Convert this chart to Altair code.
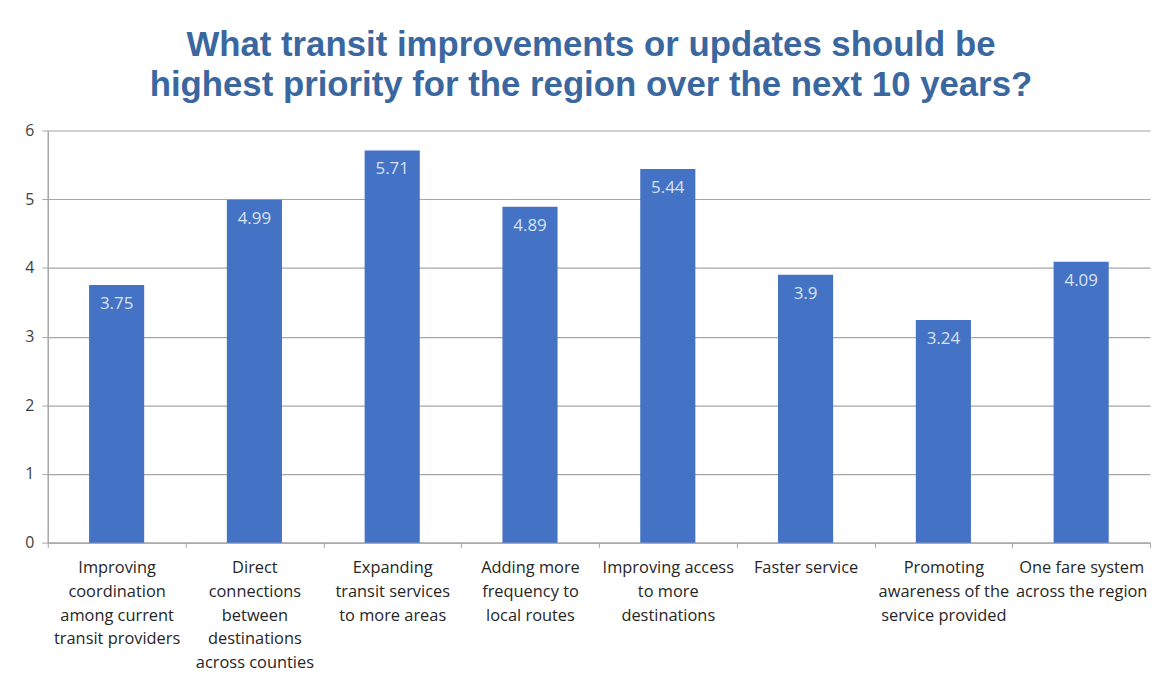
import altair as alt
import pandas as pd

categories = [
    "Improving\ncoordination\namong current\ntransit providers",
    "Direct\nconnections\nbetween\ndestinations\nacross counties",
    "Expanding\ntransit services\nto more areas",
    "Adding more\nfrequency to\nlocal routes",
    "Improving access\nto more\ndestinations",
    "Faster service",
    "Promoting\nawareness of the\nservice provided",
    "One fare system\nacross the region",
]
values = [3.75, 4.99, 5.71, 4.89, 5.44, 3.90, 3.24, 4.09]
value_labels = ["3.75", "4.99", "5.71", "4.89", "5.44", "3.9", "3.24", "4.09"]

df = pd.DataFrame({"cat": categories, "val": values, "lab": value_labels})

x = alt.X(
    "cat:N",
    sort=categories,
    title=None,
    scale=alt.Scale(paddingInner=0, paddingOuter=0),
    axis=alt.Axis(
        labelAngle=0,
        labelExpr="split(datum.label, '\\n')",
        labelFont="Open Sans",
        labelFontSize=16.5,
        labelColor="#262626",
        labelLineHeight=24,
        labelPadding=12,
        labelLimit=200,
        labelBound=False,
        tickBand="extent",
        tickSize=5,
        tickColor="#A6A6A6",
        domainColor="#A6A6A6",
        domainWidth=1.5,
        grid=False,
    ),
)
y = alt.Y(
    "val:Q",
    title=None,
    scale=alt.Scale(domain=[0, 6]),
    axis=alt.Axis(
        values=[0, 1, 2, 3, 4, 5, 6],
        format="d",
        labelFont="Open Sans",
        labelFontSize=16,
        labelColor="#404040",
        labelPadding=8,
        tickSize=6,
        tickColor="#A6A6A6",
        domainColor="#A6A6A6",
        domainWidth=1.5,
        gridColor="#A6A6A6",
        gridWidth=1.2,
    ),
)

bars = alt.Chart(df).mark_bar(
    color="#4472C4", width=alt.RelativeBandSize(0.4)
).encode(x=x, y=y)
text = alt.Chart(df).mark_text(
    baseline="top", dy=11, color="#D9E2F3", font="Open Sans", fontSize=17
).encode(x=alt.X("cat:N", sort=categories), y="val:Q", text="lab:N")

chart = (
    (bars + text)
    .properties(
        width=1110,
        height=415,
        autosize=alt.AutoSizeParams(type="none"),
        padding={"left": 40, "top": 121, "right": 9, "bottom": 140},
        title=alt.TitleParams(
            text=[
                "What transit improvements or updates should be",
                "highest priority for the region over the next 10 years?",
            ],
            font="Liberation Sans",
            fontSize=35,
            fontWeight="bold",
            color="#3A67A0",
            anchor="middle",
            dx=-8,
            lineHeight=40,
            offset=20,
        ),
    )
    .configure_view(stroke=None)
)

chart.save("out.html", embed_options={"renderer": "svg", "actions": False})
